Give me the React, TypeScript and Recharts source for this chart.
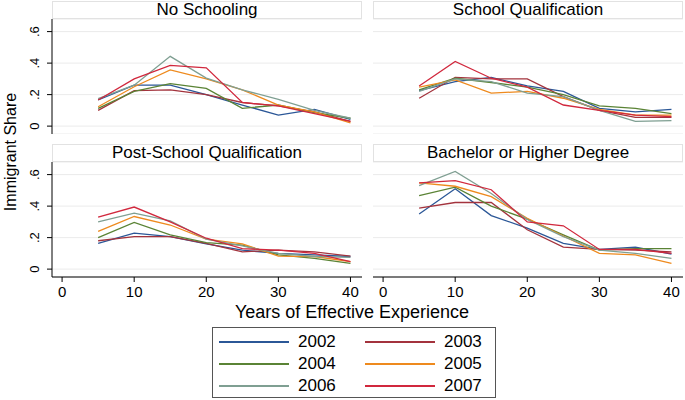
import React from "react"
import { LineChart, Line, XAxis, YAxis, CartesianGrid } from "recharts"

const experience = [5, 10, 15, 20, 25, 30, 35, 40]
const years = ["2002", "2003", "2004", "2005", "2006", "2007"]
const colors = ["#2b5797", "#a3333d", "#5a8335", "#ee8a1e", "#7f9f92", "#d1283d"]
const xTicks = [0, 10, 20, 30, 40]
const yTicks = [0, 0.2, 0.4, 0.6]

// one row per year, 2002..2007
const noSchooling = [
  [0.166, 0.26, 0.26, 0.2, 0.134, 0.07, 0.106, 0.043],
  [0.1, 0.225, 0.23, 0.2, 0.15, 0.128, 0.09, 0.03],
  [0.113, 0.22, 0.27, 0.24, 0.113, 0.134, 0.085, 0.05],
  [0.123, 0.25, 0.357, 0.3, 0.23, 0.134, 0.09, 0.02],
  [0.175, 0.26, 0.443, 0.305, 0.23, 0.17, 0.1, 0.05],
  [0.166, 0.3, 0.385, 0.37, 0.15, 0.128, 0.08, 0.03],
]
const schoolQual = [
  [0.225, 0.283, 0.31, 0.255, 0.22, 0.113, 0.09, 0.106],
  [0.177, 0.31, 0.3, 0.3, 0.187, 0.1, 0.055, 0.055],
  [0.23, 0.304, 0.277, 0.247, 0.2, 0.128, 0.113, 0.08],
  [0.247, 0.294, 0.21, 0.22, 0.177, 0.106, 0.07, 0.07],
  [0.22, 0.3, 0.283, 0.21, 0.187, 0.1, 0.03, 0.035],
  [0.255, 0.41, 0.304, 0.247, 0.134, 0.1, 0.07, 0.06],
]
const postSchool = [
  [0.164, 0.228, 0.206, 0.16, 0.12, 0.1, 0.09, 0.08],
  [0.18, 0.206, 0.206, 0.164, 0.11, 0.12, 0.11, 0.083],
  [0.2, 0.296, 0.217, 0.168, 0.153, 0.09, 0.068, 0.036],
  [0.24, 0.334, 0.28, 0.19, 0.16, 0.083, 0.08, 0.047],
  [0.3, 0.355, 0.306, 0.19, 0.147, 0.1, 0.08, 0.075],
  [0.33, 0.394, 0.3, 0.196, 0.13, 0.12, 0.1, 0.047],
]
const bachelor = [
  [0.35, 0.51, 0.34, 0.26, 0.164, 0.125, 0.14, 0.096],
  [0.387, 0.423, 0.423, 0.25, 0.14, 0.125, 0.12, 0.11],
  [0.467, 0.52, 0.4, 0.317, 0.217, 0.12, 0.13, 0.13],
  [0.547, 0.526, 0.46, 0.323, 0.21, 0.1, 0.09, 0.036],
  [0.53, 0.62, 0.48, 0.315, 0.206, 0.12, 0.1, 0.068],
  [0.547, 0.562, 0.504, 0.3, 0.275, 0.125, 0.125, 0.1],
]

const font = "'Liberation Sans', Arial, sans-serif"

function toRows(series: number[][]) {
  return experience.map((x, i) => {
    const row: Record<string, number> = { x }
    years.forEach((y, k) => (row["y" + y] = series[k][i]))
    return row
  })
}

const fmtY = (v: number) => (v === 0 ? "0" : v.toFixed(1).replace(/^0/, ""))

const YTick = (props: any) => {
  const { x, y, payload } = props
  const tx = x - 6
  return (
    <text x={tx} y={y} transform={`rotate(-90 ${tx} ${y})`} textAnchor="middle" fontSize={13} fill="#000" fontFamily={font}>
      {fmtY(payload.value)}
    </text>
  )
}

interface PanelProps {
  title: string
  series: number[][]
  top: number
  showY: boolean
  showX: boolean
}

function Panel({ title, series, top, showY, showX }: PanelProps) {
  const data = toRows(series)
  const left = showY ? 20 : 373
  const width = showY ? 342 : 310
  const height = showX ? 145 : 115
  return (
    <>
      <div
        style={{
          position: "absolute",
          left: showY ? 52 : 373,
          top: top - 18,
          width: 308,
          height: 16,
          border: "1px solid #e2e2e2",
          fontSize: 17,
          lineHeight: "16px",
          textAlign: "center",
          color: "#000",
        }}
      >
        {title}
      </div>
      <div style={{ position: "absolute", left, top }}>
        <LineChart width={width} height={height} data={data} margin={{ top: 0, right: 0, bottom: 0, left: 0 }}>
          <CartesianGrid vertical={false} stroke="#ebebeb" />
          <XAxis
            dataKey="x"
            type="number"
            domain={[-1.4, 41.6]}
            ticks={xTicks}
            interval={0}
            hide={!showX}
            height={30}
            tickSize={5}
            tickMargin={4}
            stroke="#000"
            tick={{ fill: "#000", fontSize: 15, fontFamily: font }}
          />
          <YAxis
            type="number"
            domain={[-0.05, 0.68]}
            ticks={yTicks}
            interval={0}
            hide={!showY}
            width={32}
            tickSize={5}
            stroke="#000"
            tick={<YTick />}
          />
          {years.map((y, k) => (
            <Line
              key={y}
              type="linear"
              dataKey={"y" + y}
              stroke={colors[k]}
              strokeWidth={1.3}
              dot={false}
              isAnimationActive={false}
            />
          ))}
        </LineChart>
      </div>
    </>
  )
}

export default function App() {
  return (
    <div style={{ position: "absolute", left: 0, top: 0, width: 685, height: 400, background: "#fff", fontFamily: font }}>
      <Panel title="No Schooling" series={noSchooling} top={19} showY showX={false} />
      <Panel title="School Qualification" series={schoolQual} top={19} showY={false} showX={false} />
      <Panel title="Post-School Qualification" series={postSchool} top={162} showY showX />
      <Panel title="Bachelor or Higher Degree" series={bachelor} top={162} showY={false} showX />
      <div
        style={{
          position: "absolute",
          left: 11,
          top: 152,
          transform: "translate(-50%, -50%) rotate(-90deg)",
          fontSize: 16,
          whiteSpace: "nowrap",
        }}
      >
        Immigrant Share
      </div>
      <div style={{ position: "absolute", left: 352, top: 312, transform: "translate(-50%, -50%)", fontSize: 18, whiteSpace: "nowrap" }}>
        Years of Effective Experience
      </div>
      <div
        style={{
          position: "absolute",
          left: 212,
          top: 327,
          width: 282,
          height: 69,
          border: "1px solid #555",
        }}
      >
        {years.map((y, k) => (
          <div
            key={y}
            style={{
              position: "absolute",
              left: k % 2 === 0 ? 6 : 152,
              top: 4 + Math.floor(k / 2) * 22,
              height: 20,
              display: "flex",
              alignItems: "center",
            }}
          >
            <div style={{ width: 70, height: 2, background: colors[k] }} />
            <span style={{ marginLeft: 9, fontSize: 17 }}>{y}</span>
          </div>
        ))}
      </div>
    </div>
  )
}
